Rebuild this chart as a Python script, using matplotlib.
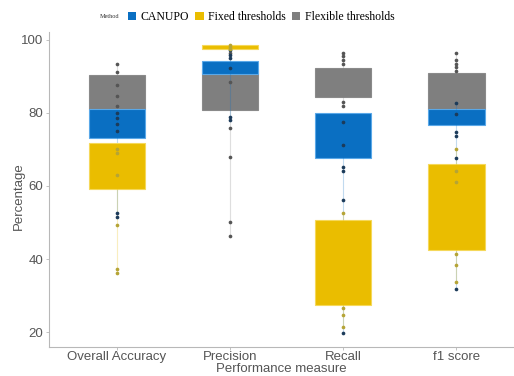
import matplotlib.pyplot as plt
from matplotlib.patches import Patch

plt.rcParams['font.family'] = ['Liberation Sans', 'DejaVu Sans']

measures = ['Overall Accuracy', 'Precision', 'Recall', 'f1 score']
methods = ['CANUPO', 'Fixed thresholds', 'Flexible thresholds']

# interquartile boxes per measure
canupo_q1 = [73.2, 90.6, 67.8, 76.7]
canupo_q3 = [81.1, 94.2, 79.9, 81.0]
fixed_q1 = [59.1, 97.4, 27.4, 42.5]
fixed_q3 = [71.7, 98.6, 50.7, 66.0]
flex_q1 = [81.0, 80.8, 84.5, 81.0]
flex_q3 = [90.4, 92.0, 92.4, 90.9]

# individual observations
canupo_pts = [
    [80.0, 78.5, 77.0, 75.0, 52.6, 51.6],
    [97.3, 96.0, 95.0, 92.3, 79.0, 78.0],
    [77.6, 71.2, 65.2, 64.0, 56.2, 19.8],
    [82.7, 79.7, 74.9, 73.7, 67.8, 31.7],
]
fixed_pts = [
    [70.0, 69.0, 63.0, 49.3, 37.2, 36.2],
    [98.5, 98.0, 97.5],
    [52.6, 26.5, 24.7, 21.4],
    [70.1, 64.0, 61.0, 41.4, 38.4, 33.6],
]
flex_pts = [
    [93.5, 91.3, 87.7, 84.6, 82.0],
    [96.5, 88.6, 75.9, 68.0, 50.2, 46.3],
    [96.5, 95.5, 94.5, 93.5, 83.0, 82.0],
    [96.5, 94.5, 93.5, 92.5, 91.5],
]

box_colors = {'CANUPO': '#0a6fc2', 'Fixed thresholds': '#eabd00', 'Flexible thresholds': '#7f7f7f'}
edge_colors = {'CANUPO': '#5aa8e8', 'Fixed thresholds': '#f5d85a', 'Flexible thresholds': '#8a8a8a'}
dot_colors = {'CANUPO': '#1c3b5a', 'Fixed thresholds': '#b5a436', 'Flexible thresholds': '#555555'}

series = {
    'Flexible thresholds': (flex_q1, flex_q3, flex_pts),
    'CANUPO': (canupo_q1, canupo_q3, canupo_pts),
    'Fixed thresholds': (fixed_q1, fixed_q3, fixed_pts),
}

fig = plt.figure(figsize=(5.14, 3.76), dpi=100)
ax = fig.add_axes([0.0953, 0.0771, 0.9047, 0.838])
pos = list(range(len(measures)))

for name in ['Flexible thresholds', 'CANUPO', 'Fixed thresholds']:
    q1s, q3s, pts = series[name]
    stats = []
    for q1, q3, p in zip(q1s, q3s, pts):
        stats.append(dict(q1=q1, q3=q3, med=(q1 + q3) / 2,
                          whislo=min(p + [q1]), whishi=max(p + [q3]), fliers=[]))
    ax.bxp(stats, positions=pos, widths=0.5, patch_artist=True, showcaps=False,
           boxprops=dict(facecolor=box_colors[name], edgecolor=edge_colors[name], linewidth=0.8),
           whiskerprops=dict(color=box_colors[name], alpha=0.25, linewidth=0.8),
           medianprops=dict(linewidth=0), manage_ticks=False)

for name in ['Flexible thresholds', 'CANUPO', 'Fixed thresholds']:
    q1s, q3s, pts = series[name]
    for x, p in zip(pos, pts):
        ax.scatter([x] * len(p), p, s=7, color=dot_colors[name], zorder=5, linewidths=0)

ax.set_xlim(-0.6, 3.51)
ax.set_ylim(15.9, 102.2)
ax.set_xticks(pos)
ax.set_xticklabels(measures)
ax.set_yticks([20, 40, 60, 80, 100])
for s in ['top', 'right']:
    ax.spines[s].set_visible(False)
for s in ['left', 'bottom']:
    ax.spines[s].set_color('#b8b8b8')
    ax.spines[s].set_linewidth(0.8)
ax.tick_params(colors='#b8b8b8', labelcolor='#555555', labelsize=9.5, length=2, width=0.6, pad=2)
ax.tick_params(axis='x', pad=1)
ax.set_ylabel('Percentage', color='#555555', fontsize=9.5)
ax.yaxis.set_label_coords(-0.052, 0.48)
ax.set_xlabel('Performance measure', color='#555555', fontsize=9.5, labelpad=0)

fig.text(100 / 514, 1 - 17 / 376, 'Method', fontsize=4.5, family='Liberation Serif',
         color='#333333', va='center')
handles = [Patch(facecolor=box_colors[m], edgecolor='none') for m in methods]
fig.legend(handles, methods, loc='center left', bbox_to_anchor=(128 / 514, 1 - 17 / 376),
           ncol=3, frameon=False, prop={'family': 'Liberation Serif', 'size': 8.5},
           handlelength=0.7, handleheight=0.7, handletextpad=0.4, columnspacing=0.5,
           borderpad=0, borderaxespad=0)

fig.savefig('out.png', dpi=100)
